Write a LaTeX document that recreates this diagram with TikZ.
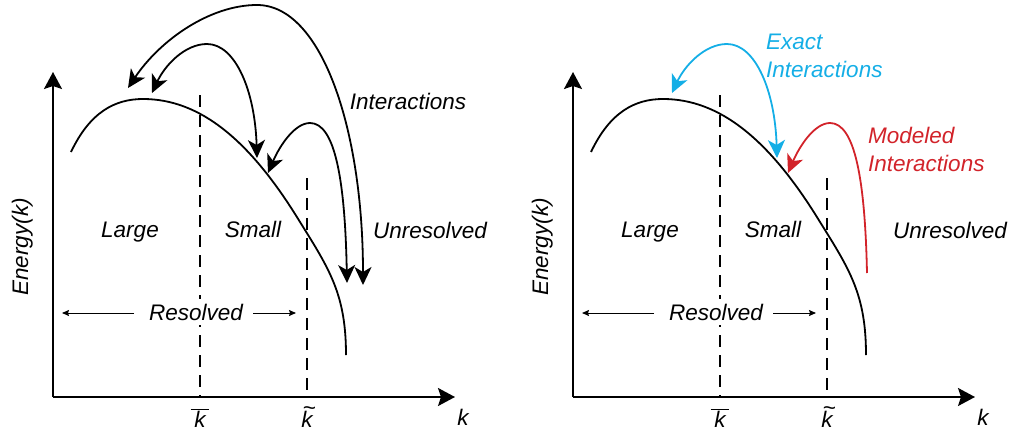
\documentclass[tikz,border=0pt]{standalone}
\usepackage{fontspec}
\setmainfont{Liberation Sans}
\usetikzlibrary{arrows.meta}
\definecolor{exactblue}{RGB}{20,174,230}
\definecolor{modelred}{RGB}{210,35,42}
\newcommand{\ktilde}{\ooalign{k\cr\hidewidth\kern0.2em\raisebox{0.5em}{\~{}}\hidewidth\cr}}
\begin{document}
\begin{tikzpicture}[x=1pt,y=-1pt,
  >={Stealth[length=18pt,width=17pt,inset=5pt]},
  txt/.style={font=\fontsize{22.5}{26}\selectfont\itshape, inner sep=0pt},
  axisline/.style={line width=2pt, -{Stealth[length=17pt,width=18pt,inset=3pt]}},
  cutline/.style={line width=1.8pt, dash pattern=on 12pt off 8pt},
  spectrum/.style={line width=1.8pt},
  interline/.style={line width=1.8pt},
  resarrow/.style={line width=1pt, -{Stealth[length=7pt,width=6pt,inset=1pt]}}]
\useasboundingbox (0,0) rectangle (1012,434);

\foreach \dx/\nm in {0/L,520/R}{
  \begin{scope}[xshift=\dx pt]
    % axes
    \coordinate (\nm o) at (53,397);
    \coordinate (\nm ytop) at (53,72);
    \coordinate (\nm xend) at (455,397);
    \draw[axisline] (\nm o) -- (\nm ytop);
    \draw[axisline] (\nm o) -- (\nm xend);
    % cut-off lines
    \coordinate (\nm c1t) at (200,95);
    \coordinate (\nm c1b) at (200,397);
    \coordinate (\nm c2t) at (307,178);
    \coordinate (\nm c2b) at (307,397);
    \draw[cutline] (\nm c1t) -- (\nm c1b);
    \draw[cutline] (\nm c2t) -- (\nm c2b);
    % spectrum
    \draw[spectrum] (71,152) .. controls (90,112) and (115,99) .. (143,99)
      .. controls (200,99) and (250,140) .. (300,222)
      .. controls (330,270) and (346,295) .. (346,355);
    % labels
    \node[txt, anchor=base] (\nm large) at (130,237) {Large};
    \node[txt, anchor=base] (\nm small) at (253,237) {Small};
    \node[txt, anchor=base] (\nm unres) at (430,238) {Unresolved};
    \node[txt, anchor=base, fill=white, inner xsep=2pt, inner ysep=5pt] (\nm res) at (196,320) {Resolved};
    \coordinate (\nm rl0) at (134,313);
    \coordinate (\nm rl1) at (62,313);
    \coordinate (\nm rr0) at (253,313);
    \coordinate (\nm rr1) at (296,313);
    \draw[resarrow] (\nm rl0) -- (\nm rl1);
    \draw[resarrow] (\nm rr0) -- (\nm rr1);
    \node[txt, anchor=base, rotate=90] (\nm energy) at (28,247) {Energy(k)};
    \node[txt, anchor=base] (\nm kbar) at (200,427) {$\overline{\mbox{\,\itshape k\,}}$};
    \node[txt, anchor=base] (\nm ktil) at (307,427) {\ktilde};
    \node[txt, anchor=base] (\nm k) at (463,425) {k};
  \end{scope}
}

% left panel interactions
\coordinate (A1) at (128,88);
\coordinate (A2) at (363,285);
\coordinate (B1) at (152,93);
\coordinate (B2) at (257,158);
\coordinate (C1) at (268,173);
\coordinate (C2) at (347,283);
\draw[interline, <->] (A1) .. controls (160,40) and (210,5) .. (257,5)
  .. controls (322,5) and (363,130) .. (A2);
\draw[interline, <->] (B1) .. controls (165,65) and (185,44) .. (207,44)
  .. controls (235,44) and (255,90) .. (B2);
\draw[interline, <->] (C1) .. controls (280,145) and (295,123) .. (310,123)
  .. controls (335,123) and (345,180) .. (C2);
\node[txt, anchor=base] (inter) at (408,109) {Interactions};

% right panel interactions
\coordinate (E1) at (672,93);
\coordinate (E2) at (777,158);
\coordinate (M1) at (788,173);
\coordinate (M2) at (867,273);
\draw[interline, exactblue, <->] (E1) .. controls (685,65) and (705,44) .. (727,44)
  .. controls (755,44) and (775,90) .. (E2);
\draw[interline, modelred, <-] (M1) .. controls (800,145) and (815,123) .. (830,123)
  .. controls (855,123) and (865,180) .. (M2);
\node[txt, anchor=base west, text=exactblue] (exact1) at (766,49) {Exact};
\node[txt, anchor=base west, text=exactblue] (exact2) at (766,77) {Interactions};
\node[txt, anchor=base west, text=modelred] (model1) at (868,143) {Modeled};
\node[txt, anchor=base west, text=modelred] (model2) at (868,171) {Interactions};
\end{tikzpicture}
\end{document}
